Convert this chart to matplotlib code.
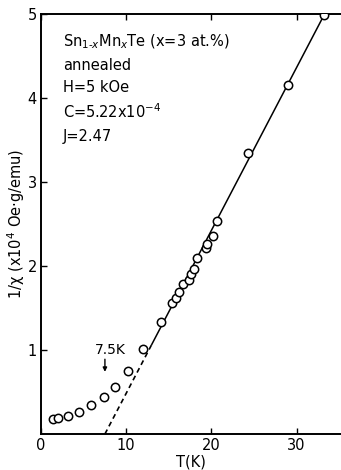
import matplotlib
matplotlib.use("Agg")
import matplotlib.pyplot as plt
import numpy as np

# Data
T_data = [1.4, 2.0, 3.2, 4.4, 5.9, 7.4, 8.7, 10.2, 12.0, 14.05, 15.4, 15.8, 16.2,
          16.7, 17.4, 17.6, 17.9, 18.25, 19.35, 19.45, 20.2, 20.7, 24.3, 29.0, 33.2]
inv_chi = [0.175, 0.19, 0.215, 0.265, 0.34, 0.435, 0.56, 0.755, 1.01, 1.33, 1.56, 1.62, 1.69,
           1.79, 1.83, 1.90, 1.97, 2.09, 2.22, 2.26, 2.36, 2.53, 3.35, 4.16, 4.99]

# Curie-Weiss fit line: theta = 7.5 K
theta = 7.5
slope = 0.194
T_dash = [7.5, 13.0]
T_solid = [13.0, 34.0]

xticks = [0, 10, 20, 30]
yticks = [1, 2, 3, 4, 5]

fig = plt.figure(figsize=(3.41, 4.70), dpi=100)
ax = fig.add_axes([41/341, 1 - 434/470, 300/341, 420/470])

ax.plot(T_dash, [slope * (t - theta) for t in T_dash], color='black', lw=1.2,
        ls=(0, (3, 2.2)))
ax.plot(T_solid, [slope * (t - theta) for t in T_solid], color='black', lw=1.1)
ax.plot(T_data, inv_chi, ls='none', marker='o', ms=6, mfc='white', mec='black',
        mew=1.1, zorder=3)

ax.set_xlim(0, 35.2)
ax.set_ylim(0, 5)
ax.set_xticks(xticks)
ax.set_yticks(yticks)
ax.tick_params(direction='in', length=4, width=1, labelsize=10.5, top=True,
               labeltop=False, pad=3)
ax.spines['right'].set_visible(False)
for s in ['left', 'bottom', 'top']:
    ax.spines[s].set_linewidth(1.4)

ax.set_xlabel('T(K)', fontsize=10.5, labelpad=1)
ax.set_ylabel('1/χ (x10$^4$ Oe·g/emu)', fontsize=10.5, labelpad=0)

info = ['Sn$_{1\\text{-}x}$Mn$_x$Te (x=3 at.%)', 'annealed', 'H=5 kOe',
        'C=5.22x10$^{-4}$', 'J=2.47']
ys = [42, 65, 88, 112, 137]
for txt, yp in zip(info, ys):
    fig.text(63/341, 1 - yp/470, txt, fontsize=10.5, ha='left', va='center')

ax.text(8.1, 1.0, '7.5K', ha='center', va='center', fontsize=10)
ax.annotate('', xy=(7.5, 0.74), xytext=(7.5, 0.89),
            arrowprops=dict(arrowstyle='-|>', color='black', lw=1, shrinkA=0, shrinkB=0,
                            mutation_scale=6))

fig.savefig('out.png', dpi=100)
